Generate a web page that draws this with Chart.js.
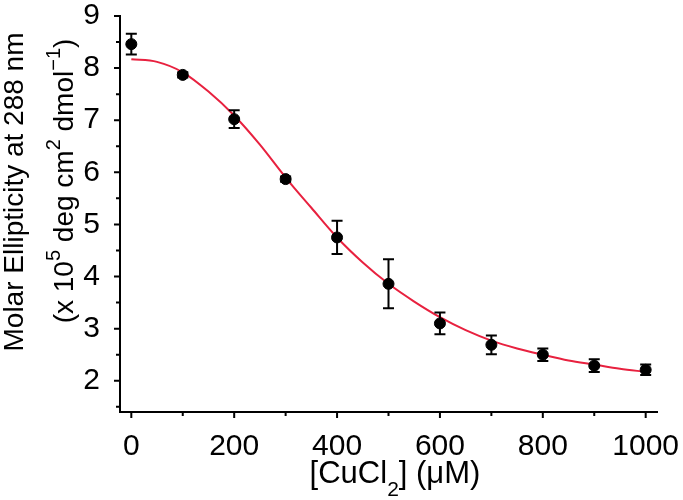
<!DOCTYPE html>
<html>
<head>
<meta charset="utf-8">
<script src="https://cdn.jsdelivr.net/npm/chart.js@4"></script>
<style>
html,body{margin:0;padding:0;background:#fff;}
#wrap{width:683px;height:500px;}
</style>
</head>
<body>
<div id="wrap"><canvas id="c" width="683" height="500"></canvas></div>
<script>
// ---- data ----
const concentrations = [0, 100, 200, 300, 400, 500, 600, 700, 800, 900, 1000];
const ellipticity    = [8.46, 7.87, 7.02, 5.87, 4.75, 3.86, 3.10, 2.69, 2.50, 2.29, 2.21];
const errors         = [0.20, 0.05, 0.17, 0.05, 0.32, 0.47, 0.21, 0.18, 0.12, 0.12, 0.10];
const fitX = [0, 50, 100, 150, 200, 250, 300, 350, 400, 450, 500, 550, 600, 650, 700, 750, 800, 850, 900, 950, 1000];
const fitY = [8.17, 8.12, 7.92, 7.55, 7.09, 6.53, 5.90, 5.32, 4.75, 4.27, 3.86, 3.52, 3.22, 2.97, 2.77, 2.62, 2.50, 2.39, 2.31, 2.23, 2.17];
const xMajorTicks = [0, 200, 400, 600, 800, 1000];
const xMinorTicks = [100, 300, 500, 700, 900];
const yMajorTicks = [2, 3, 4, 5, 6, 7, 8, 9];
const yMinorTicks = [1.5, 2.5, 3.5, 4.5, 5.5, 6.5, 7.5, 8.5];
// titles as rich-text segments: [text, kind] where kind: n = normal, sup = superscript, sub = subscript
const xTitleParts = [['[CuCl', 'n'], ['2', 'sub'], ['] (\u03BCM)', 'n']];
const yTitleLine1 = [['Molar Ellipticity at 288 nm', 'n']];
const yTitleLine2 = [['(x 10', 'n'], ['5', 'sup'], [' deg cm', 'n'], ['2', 'sup'], [' dmol', 'n'], ['\u22121', 'sup'], [')', 'n']];

const FONT = "'Liberation Sans', Arial, sans-serif";

function drawRich(ctx, parts, cx, baseY, main, small) {
  const seg = parts.map(([t, k]) => {
    ctx.font = (k === 'n' ? main : small) + 'px ' + FONT;
    return {t, k, w: ctx.measureText(t).width};
  });
  const total = seg.reduce((a, s) => a + s.w, 0);
  let x = cx - total / 2;
  ctx.textAlign = 'left';
  ctx.textBaseline = 'alphabetic';
  seg.forEach(s => {
    ctx.font = (s.k === 'n' ? main : small) + 'px ' + FONT;
    const dy = s.k === 'sup' ? -13 : (s.k === 'sub' ? 13 : 0);
    ctx.fillText(s.t, x, baseY + dy);
    x += s.w;
  });
}

const titles = {
  id: 'titles',
  afterDraw(chart) {
    const ctx = chart.ctx;
    ctx.save();
    ctx.fillStyle = '#000';
    drawRich(ctx, xTitleParts, 395, 483, 31, 21);
    ctx.save();
    ctx.translate(23, 192);
    ctx.rotate(-Math.PI / 2);
    drawRich(ctx, yTitleLine1, 0, 0, 28, 20);
    ctx.restore();
    ctx.save();
    ctx.translate(73, 181);
    ctx.rotate(-Math.PI / 2);
    drawRich(ctx, yTitleLine2, 0, 0, 28, 20);
    ctx.restore();
    ctx.restore();
  }
};

const errorBars = {
  id: 'errorBars',
  afterDatasetsDraw(chart) {
    const {ctx, scales: {x, y}} = chart;
    ctx.save();
    ctx.strokeStyle = '#000';
    ctx.lineWidth = 2;
    concentrations.forEach((c, i) => {
      const px = x.getPixelForValue(c);
      const top = y.getPixelForValue(ellipticity[i] + errors[i]);
      const bot = y.getPixelForValue(ellipticity[i] - errors[i]);
      ctx.beginPath();
      ctx.moveTo(px, top); ctx.lineTo(px, bot);
      ctx.moveTo(px - 5.5, top); ctx.lineTo(px + 5.5, top);
      ctx.moveTo(px - 5.5, bot); ctx.lineTo(px + 5.5, bot);
      ctx.stroke();
    });
    ctx.restore();
  }
};

const tickMarks = {
  id: 'tickMarks',
  afterDraw(chart) {
    const {ctx, scales: {x, y}, chartArea} = chart;
    ctx.save();
    ctx.strokeStyle = '#000';
    ctx.lineWidth = 2;
    ctx.beginPath();
    xMajorTicks.forEach(v => { const p = x.getPixelForValue(v); ctx.moveTo(p, chartArea.bottom); ctx.lineTo(p, chartArea.bottom + 6); });
    xMinorTicks.forEach(v => { const p = x.getPixelForValue(v); ctx.moveTo(p, chartArea.bottom); ctx.lineTo(p, chartArea.bottom + 4); });
    yMajorTicks.forEach(v => { const p = y.getPixelForValue(v); ctx.moveTo(chartArea.left, p); ctx.lineTo(chartArea.left - 6, p); });
    yMinorTicks.forEach(v => { if (v >= y.min) { const p = y.getPixelForValue(v); ctx.moveTo(chartArea.left, p); ctx.lineTo(chartArea.left - 4, p); } });
    ctx.stroke();
    ctx.restore();
  }
};

new Chart(document.getElementById('c'), {
  type: 'scatter',
  data: {
    datasets: [
      {
        label: 'fit',
        type: 'line',
        data: fitX.map((v, i) => ({x: v, y: fitY[i]})),
        borderColor: '#e8213f',
        borderWidth: 2,
        pointRadius: 0,
        fill: false,
        cubicInterpolationMode: 'monotone',
        order: 2
      },
      {
        label: 'data',
        data: concentrations.map((v, i) => ({x: v, y: ellipticity[i]})),
        backgroundColor: '#000',
        borderColor: '#000',
        pointRadius: 5.5,
        pointHoverRadius: 5.5,
        order: 1
      }
    ]
  },
  options: {
    responsive: false,
    animation: false,
    events: [],
    layout: {padding: {top: 16, right: 26, left: 0, bottom: 0}},
    plugins: {legend: {display: false}, tooltip: {enabled: false}},
    scales: {
      x: {
        type: 'linear',
        min: -22,
        max: 1022,
        afterBuildTicks: s => { s.ticks = xMajorTicks.map(v => ({value: v})); },
        afterFit: s => { s.height = 88; s.paddingLeft = 0; s.paddingRight = 0; },
        grid: {display: false},
        border: {display: true, color: '#000', width: 2},
        ticks: {color: '#000', font: {family: FONT, size: 30}, padding: 9, maxRotation: 0, autoSkip: false,
                callback: v => String(v)}
      },
      y: {
        type: 'linear',
        min: 1.4,
        max: 9,
        afterBuildTicks: s => { s.ticks = yMajorTicks.map(v => ({value: v})); },
        afterFit: s => { s.width = 120; s.paddingTop = 0; s.paddingBottom = 0; },
        grid: {display: false},
        border: {display: true, color: '#000', width: 2},
        ticks: {color: '#000', font: {family: FONT, size: 30}, padding: 12, autoSkip: false,
                callback: v => String(v)}
      }
    }
  },
  plugins: [errorBars, tickMarks, titles]
});
</script>
</body>
</html>
